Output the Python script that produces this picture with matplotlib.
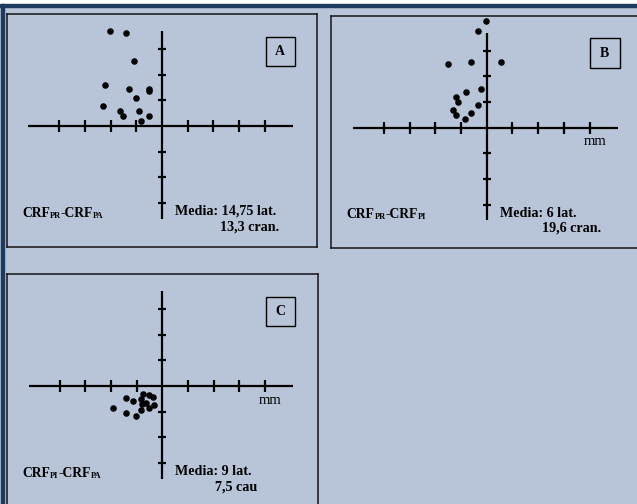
import matplotlib.pyplot as plt
from matplotlib.patches import Rectangle

plt.rcParams['font.family'] = ['Liberation Serif', 'DejaVu Serif']

# Displacements in mm (lateral, cranial/caudal)
a_x = [-20.1, -14.0, -11.0, -22.1, -13.0, -5.2, -5.2, -10.1, -23.1, -16.2, -9.1, -15.2, -4.9, -8.1]
a_y = [37.0, 36.1, 25.1, 16.0, 14.4, 14.4, 13.8, 11.0, 7.8, 6.0, 6.0, 3.9, 4.0, 1.9]

b_x = [-0.4, -3.2, -15.2, -6.1, 5.6, -2.3, -8.1, -12.1, -11.3, -3.2, -13.2, -6.1, -12.1, -8.4]
b_y = [41.6, 37.7, 24.8, 25.7, 25.7, 14.9, 14.0, 11.8, 9.9, 8.8, 6.9, 5.8, 4.9, 3.2]

c_x = [-19.1, -14.1, -14.1, -11.3, -10.2, -8.4, -7.6, -8.0, -8.3, -6.5, -5.1, -3.5, -5.1, -3.2]
c_y = [-8.7, -4.8, -10.6, -5.7, -11.7, -5.2, -3.2, -7.0, -9.3, -6.5, -3.5, -4.2, -8.7, -7.4]

letters = ['A', 'B', 'C']
pair_labels = [('PR', 'PA'), ('PR', 'PI'), ('PI', 'PA')]
media_lines = ['Media: 14,75 lat.', 'Media: 6 lat.', 'Media: 9 lat.']
second_lines = ['13,3 cran.', '19,6 cran.', '7,5 cau']
x_ticks = [-40, -30, -20, -10, 10, 20, 30, 40]
y_ticks = [-30, -20, -10, 10, 20, 30]

BG = '#b8c4d7'
NAVY = '#1d3a5f'
W, H = 637, 504
SCALE = 2.57  # pixels per mm

fig = plt.figure(figsize=(6.37, 5.04), dpi=100, facecolor=BG)

# outer frame: white strip on top, navy lines top and left
fig.patches.append(Rectangle((0, 1 - 4 / H), 1, 4 / H, transform=fig.transFigure,
                             color='white', zorder=0))
fig.patches.append(Rectangle((0, 1 - 7 / H), 1, 3 / H, transform=fig.transFigure,
                             color=NAVY, zorder=1))
fig.patches.append(Rectangle((1 / W, 0), 3 / W, 1 - 4 / H, transform=fig.transFigure,
                             color=NAVY, zorder=1))


def make_panel(ox, oy):
    # ox, oy: pixel position of the origin of the cross
    left = ox - 60.5 * SCALE
    bottom = oy + 47 * SCALE
    ax = fig.add_axes([left / W, 1 - bottom / H, 121 * SCALE / W, 90.5 * SCALE / H])
    ax.set_xlim(-60.5, 60.5)
    ax.set_ylim(-47, 43.5)
    ax.set_facecolor('none')
    ax.set_xticks([])
    ax.set_yticks([])
    for s in ax.spines.values():
        s.set_linewidth(1.1)
        s.set_color('#151515')
    # the cross with its ticks
    ax.plot([-52, 51], [0, 0], color='k', lw=1.6, solid_capstyle='butt')
    ax.plot([0, 0], [-36, 37], color='k', lw=1.6, solid_capstyle='butt')
    ax.plot(x_ticks, [0] * len(x_ticks), ls='none', marker='|', ms=8, mew=1.6, color='k')
    ax.plot([0] * len(y_ticks), y_ticks, ls='none', marker='_', ms=5.5, mew=1.6, color='k')
    return ax


def crf_label(ax, x, y, subs):
    # CRF with small-cap subscripts sitting on the baseline
    t = ax.text(x, y, 'CRF', fontsize=9.8, fontweight='bold', ha='left', va='bottom')
    t = ax.annotate(subs[0], xy=(1, 0), xycoords=t, fontsize=6, fontweight='bold',
                    ha='left', va='bottom')
    t = ax.annotate('-CRF', xy=(1, 0), xycoords=t, fontsize=9.8, fontweight='bold',
                    ha='left', va='bottom')
    ax.annotate(subs[1], xy=(1, 0), xycoords=t, fontsize=6, fontweight='bold',
                ha='left', va='bottom')


origins = [(162, 126), (486.7, 127.7), (162.3, 386)]
xs = [a_x, b_x, c_x]
ys = [a_y, b_y, c_y]
second_x = [22.5, 21.5, 20.5]

for i in range(3):
    ax = make_panel(*origins[i])
    ax.plot(xs[i], ys[i], 'o', ms=3.7, color='k', clip_on=False)

    # letter box
    ax.add_patch(Rectangle((46 - 5.7, 29.0 - 5.8), 11.4, 11.6, fill=False,
                           edgecolor='k', lw=1.0))
    ax.text(46, 29.0, letters[i], fontsize=10, fontweight='bold', ha='center', va='center')

    crf_label(ax, -54.5, -36.4, pair_labels[i])
    ax.text(5.0, -33.2, media_lines[i], fontsize=10.2, fontweight='bold', ha='left', va='center')
    ax.text(second_x[i], -39.2, second_lines[i], fontsize=10.2, fontweight='bold',
            ha='left', va='center')
    if i > 0:
        ax.text(42, -5.5, 'mm', fontsize=10.5, ha='center', va='center')

fig.savefig('out.png', dpi=100, facecolor=BG)
